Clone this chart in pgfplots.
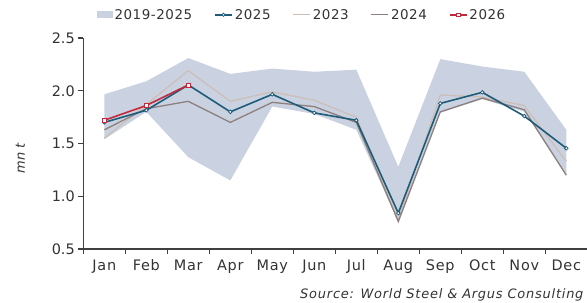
\documentclass[border=0pt]{standalone}
\usepackage{pgfplots}
\pgfplotsset{compat=1.18}
\usepackage{fontspec}
\setmainfont{DejaVu Sans}
\newfontfamily\wideA{DejaVu Sans}[LetterSpace=5]
\newfontfamily\wideB{DejaVu Sans}[LetterSpace=4]
\newfontfamily\wideC{DejaVu Sans}[LetterSpace=6]
\definecolor{band}{HTML}{CAD2E1}
\definecolor{c2025}{HTML}{1D5C78}
\definecolor{c2026}{HTML}{C4283A}
\definecolor{c2023}{HTML}{CBBFB8}
\definecolor{c2024}{HTML}{8E7F7D}
\definecolor{axgray}{HTML}{404040}
\definecolor{txt}{HTML}{333333}
\begin{document}
\begin{tikzpicture}
\useasboundingbox (-83.3bp,-54bp) rectangle (503.7bp,249bp);
\begin{axis}[
  scale only axis, width=504bp, height=211bp,
  xmin=0.5, xmax=12.5, ymin=0.5, ymax=2.5,
  axis x line*=bottom, axis y line*=left,
  axis line style={draw=axgray, line width=1.1pt},
  xtick={1,...,12},
  xticklabels={Jan,Feb,Mar,Apr,May,Jun,Jul,Aug,Sep,Oct,Nov,Dec},
  minor xtick={0.5,1.5,...,12.5},
  ytick={0.5,1.0,1.5,2.0,2.5},
  tick align=outside,
  major tick length=5bp, minor tick length=5bp,
  x tick style={draw=none},
  minor x tick style={draw=axgray, line width=1.1pt},
  y tick style={draw=axgray, line width=1.1pt},
  /pgf/number format/assume math mode=true,
  yticklabel style={font=\fontsize{14.5}{16}\selectfont, text=txt, /pgf/number format/fixed, /pgf/number format/fixed zerofill, /pgf/number format/precision=1},
  xticklabel style={font=\wideA\fontsize{14.5}{16}\selectfont, text=txt, yshift=-2bp},
  ylabel={\itshape mn t},
  ylabel style={font=\fontsize{13}{15}\selectfont, text=txt, at={(axis description cs:-0.125,0.43)}, anchor=center, rotate=0},
  legend columns=-1,
  legend style={at={(axis description cs:0.02,1.11)}, anchor=west, draw=none, fill=none,
    font=\wideB\fontsize{13.5}{15}\selectfont, text=txt,
    /tikz/every even column/.append style={column sep=20bp}},
  clip=false,
]
\addplot[fill=band, draw=none, forget plot] coordinates {
 (1,1.966) (2,2.09) (3,2.31) (4,2.16) (5,2.21) (6,2.18) (7,2.20) (8,1.28) (9,2.30) (10,2.23) (11,2.18) (12,1.63)
 (12,1.20) (11,1.80) (10,1.92) (9,1.79) (8,0.76) (7,1.63) (6,1.78) (5,1.85) (4,1.15) (3,1.37) (2,1.80) (1,1.54)
} -- cycle;
\addplot[c2023, line width=1.3pt, forget plot] coordinates {
 (1,1.55) (2,1.87) (3,2.19) (4,1.90) (5,1.99) (6,1.91) (7,1.75) (8,0.77) (9,1.96) (10,1.94) (11,1.86) (12,1.33)
};
\addplot[c2024, line width=1.3pt, forget plot] coordinates {
 (1,1.63) (2,1.83) (3,1.90) (4,1.70) (5,1.89) (6,1.85) (7,1.70) (8,0.76) (9,1.80) (10,1.93) (11,1.82) (12,1.20)
};
\addplot[c2025, line width=1.6pt, mark=*, mark size=1.8pt, mark options={fill=white, draw=c2025, line width=0.8pt}, forget plot] coordinates {
 (1,1.70) (2,1.815) (3,2.055) (4,1.80) (5,1.966) (6,1.79) (7,1.72) (8,0.84) (9,1.88) (10,1.985) (11,1.76) (12,1.455)
};
\addplot[c2026, line width=1.6pt, mark=square*, mark size=2pt, mark options={fill=white, draw=c2026, line width=0.8pt}, forget plot] coordinates {
 (1,1.72) (2,1.86) (3,2.055)
};
\addlegendimage{area legend, fill=band, draw=none, legend image code/.code={\fill[band] (0bp,-3.5bp) rectangle (16bp,3.5bp);}}
\addlegendentry{2019-2025}
\addlegendimage{c2025, line width=1.6pt, mark=*, mark size=1.6pt, mark options={fill=white, draw=c2025, line width=0.8pt}}
\addlegendentry{2025}
\addlegendimage{c2023, line width=1.3pt}
\addlegendentry{2023}
\addlegendimage{c2024, line width=1.3pt}
\addlegendentry{2024}
\addlegendimage{c2026, line width=1.6pt, mark=square*, mark size=1.8pt, mark options={fill=white, draw=c2026, line width=0.8pt}}
\addlegendentry{2026}
\node[anchor=west, inner sep=0pt, font=\wideC\fontsize{13}{15}\selectfont\itshape, text=txt] at (axis description cs:0.43,-0.218) {Source: World Steel \& Argus Consulting};
\end{axis}
\end{tikzpicture}
\end{document}
